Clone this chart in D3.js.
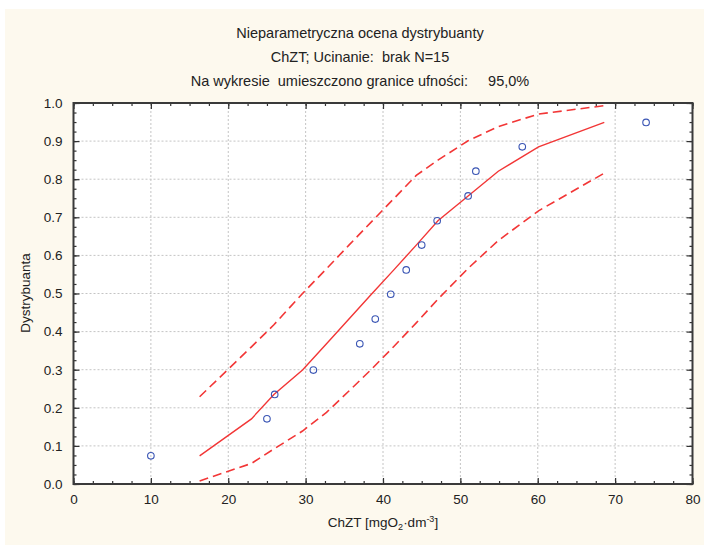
<!DOCTYPE html>
<html>
<head>
<meta charset="utf-8">
<script src="https://cdn.jsdelivr.net/npm/d3@7"></script>
<style>
  body { margin: 0; background: #ffffff; }
  text { font-family: "Liberation Sans", Arial, sans-serif; fill: #222; }
</style>
</head>
<body>
<svg id="chart" width="704" height="545"></svg>
<script>
// observed values (ChZT) and their empirical distribution
const obsX = [10, 25, 26, 31, 37, 39, 41, 43, 45, 47, 51, 52, 58, 74];
const obsP = [0.074, 0.171, 0.235, 0.299, 0.368, 0.433, 0.498, 0.562, 0.627, 0.691, 0.756, 0.821, 0.885, 0.949];

// fitted distribution + 95% band
const fitX   = [16.3, 23.0, 25.9, 29.6, 32.7, 35.6, 38.5, 41.4, 44.3, 47.1, 51.0, 54.9, 60.1, 68.6];
const fitP   = [0.074, 0.171, 0.235, 0.299, 0.368, 0.433, 0.498, 0.562, 0.627, 0.691, 0.756, 0.821, 0.885, 0.949];
const upperP = [0.229, 0.360, 0.418, 0.500, 0.565, 0.627, 0.688, 0.749, 0.810, 0.850, 0.901, 0.938, 0.971, 0.993];
const lowerP = [0.008, 0.054, 0.092, 0.139, 0.188, 0.244, 0.301, 0.361, 0.423, 0.485, 0.566, 0.639, 0.717, 0.816];

const xTicks = [0, 10, 20, 30, 40, 50, 60, 70, 80];
const yTicks = [0, 0.1, 0.2, 0.3, 0.4, 0.5, 0.6, 0.7, 0.8, 0.9, 1.0];
const titleLines = [
  "Nieparametryczna ocena dystrybuanty",
  "ChZT; Ucinanie:  brak N=15",
  "Na wykresie  umieszczono granice ufności:     95,0%"
];

const svg = d3.select("#chart");
const pLeft = 73.5, pRight = 692.5, pTop = 103, pBottom = 484;

let x = d3.scaleLinear().domain([0, 80]).range([pLeft, pRight]);
let y = d3.scaleLinear().domain([0, 1]).range([pBottom, pTop]);

// cream background
svg.append("rect").attr("x", 5).attr("y", 9).attr("width", 699).attr("height", 536).attr("fill", "#fdf9ee");
svg.append("rect").attr("x", pLeft).attr("y", pTop).attr("width", pRight - pLeft).attr("height", pBottom - pTop).attr("fill", "#fff");

// titles
svg.selectAll("text.title")
  .data(titleLines)
  .enter()
  .append("text")
  .attr("class", "title")
  .attr("x", 360)
  .attr("y", (d, i) => 38 + i * 24)
  .attr("text-anchor", "middle")
  .style("font-size", "14.5px")
  .style("white-space", "pre")
  .text(d => d);

// grid
let grid = svg.append("g");
grid.selectAll("line.gx")
  .data(xTicks.slice(1, -1))
  .enter().append("line")
  .attr("x1", d => x(d)).attr("x2", d => x(d))
  .attr("y1", pTop).attr("y2", pBottom)
  .attr("stroke", "#c4c4c4").attr("stroke-dasharray", "2,2");
grid.selectAll("line.gy")
  .data(yTicks.slice(1, -1))
  .enter().append("line")
  .attr("y1", d => y(d)).attr("y2", d => y(d))
  .attr("x1", pLeft).attr("x2", pRight)
  .attr("stroke", "#c4c4c4").attr("stroke-dasharray", "2,2");

// axes
const minorX = d3.range(0, 80.01, 2.5);
const minorY = d3.range(0, 1.001, 0.025);
const fmtY = d3.format(".1f");

function styleAxis(g) {
  g.select(".domain").remove();
  g.selectAll(".tick line").attr("stroke", "#333").attr("stroke-width", 1.2);
  g.selectAll("text").style("font-size", "13.5px").attr("fill", "#222");
}

svg.append("g").attr("transform", `translate(0,${pBottom})`)
  .call(d3.axisBottom(x).tickValues(minorX).tickSize(-3).tickFormat("")).call(styleAxis);
svg.append("g").attr("transform", `translate(0,${pBottom})`)
  .call(d3.axisBottom(x).tickValues(xTicks).tickSize(-6).tickPadding(10)).call(styleAxis);
svg.append("g").attr("transform", `translate(0,${pTop})`)
  .call(d3.axisTop(x).tickValues(minorX).tickSize(-3).tickFormat("")).call(styleAxis);
svg.append("g").attr("transform", `translate(0,${pTop})`)
  .call(d3.axisTop(x).tickValues(xTicks).tickSize(-6).tickFormat("")).call(styleAxis);

svg.append("g").attr("transform", `translate(${pLeft},0)`)
  .call(d3.axisLeft(y).tickValues(minorY).tickSize(-3).tickFormat("")).call(styleAxis);
svg.append("g").attr("transform", `translate(${pLeft},0)`)
  .call(d3.axisLeft(y).tickValues(yTicks).tickSize(-6).tickPadding(11).tickFormat(fmtY)).call(styleAxis);
svg.append("g").attr("transform", `translate(${pRight},0)`)
  .call(d3.axisRight(y).tickValues(minorY).tickSize(-3).tickFormat("")).call(styleAxis);
svg.append("g").attr("transform", `translate(${pRight},0)`)
  .call(d3.axisRight(y).tickValues(yTicks).tickSize(-6).tickFormat("")).call(styleAxis);

// frame
svg.append("rect").attr("x", pLeft).attr("y", pTop).attr("width", pRight - pLeft).attr("height", pBottom - pTop)
  .attr("fill", "none").attr("stroke", "#3a3a3a").attr("stroke-width", 2);

// lines
let line = d3.line().x(d => x(d[0])).y(d => y(d[1]));
svg.append("path").datum(d3.zip(fitX, fitP)).attr("d", line)
  .attr("fill", "none").attr("stroke", "#f23636").attr("stroke-width", 1.4);
svg.append("path").datum(d3.zip(fitX, upperP)).attr("d", line)
  .attr("fill", "none").attr("stroke", "#f23636").attr("stroke-width", 1.6).attr("stroke-dasharray", "9,5");
svg.append("path").datum(d3.zip(fitX, lowerP)).attr("d", line)
  .attr("fill", "none").attr("stroke", "#f23636").attr("stroke-width", 1.6).attr("stroke-dasharray", "9,5");

// points
svg.selectAll("circle.obs")
  .data(d3.zip(obsX, obsP))
  .enter()
  .append("circle")
  .attr("class", "obs")
  .attr("cx", d => x(d[0]))
  .attr("cy", d => y(d[1]))
  .attr("r", 3.3)
  .attr("fill", "none")
  .attr("stroke", "#3a55b4")
  .attr("stroke-width", 1.1);

// axis titles
let xt = svg.append("text").attr("x", 383).attr("y", 527).attr("text-anchor", "middle").style("font-size", "13.5px");
xt.append("tspan").text("ChZT [mgO");
xt.append("tspan").text("2").attr("dy", 3).style("font-size", "9px");
xt.append("tspan").text("·dm").attr("dy", -3);
xt.append("tspan").text("-3").attr("dy", -5).style("font-size", "9px");
xt.append("tspan").text("]").attr("dy", 5);

svg.append("text")
  .attr("transform", "translate(30,293) rotate(-90)")
  .attr("text-anchor", "middle")
  .style("font-size", "13.5px")
  .text("Dystrybuanta");
</script>
</body>
</html>
